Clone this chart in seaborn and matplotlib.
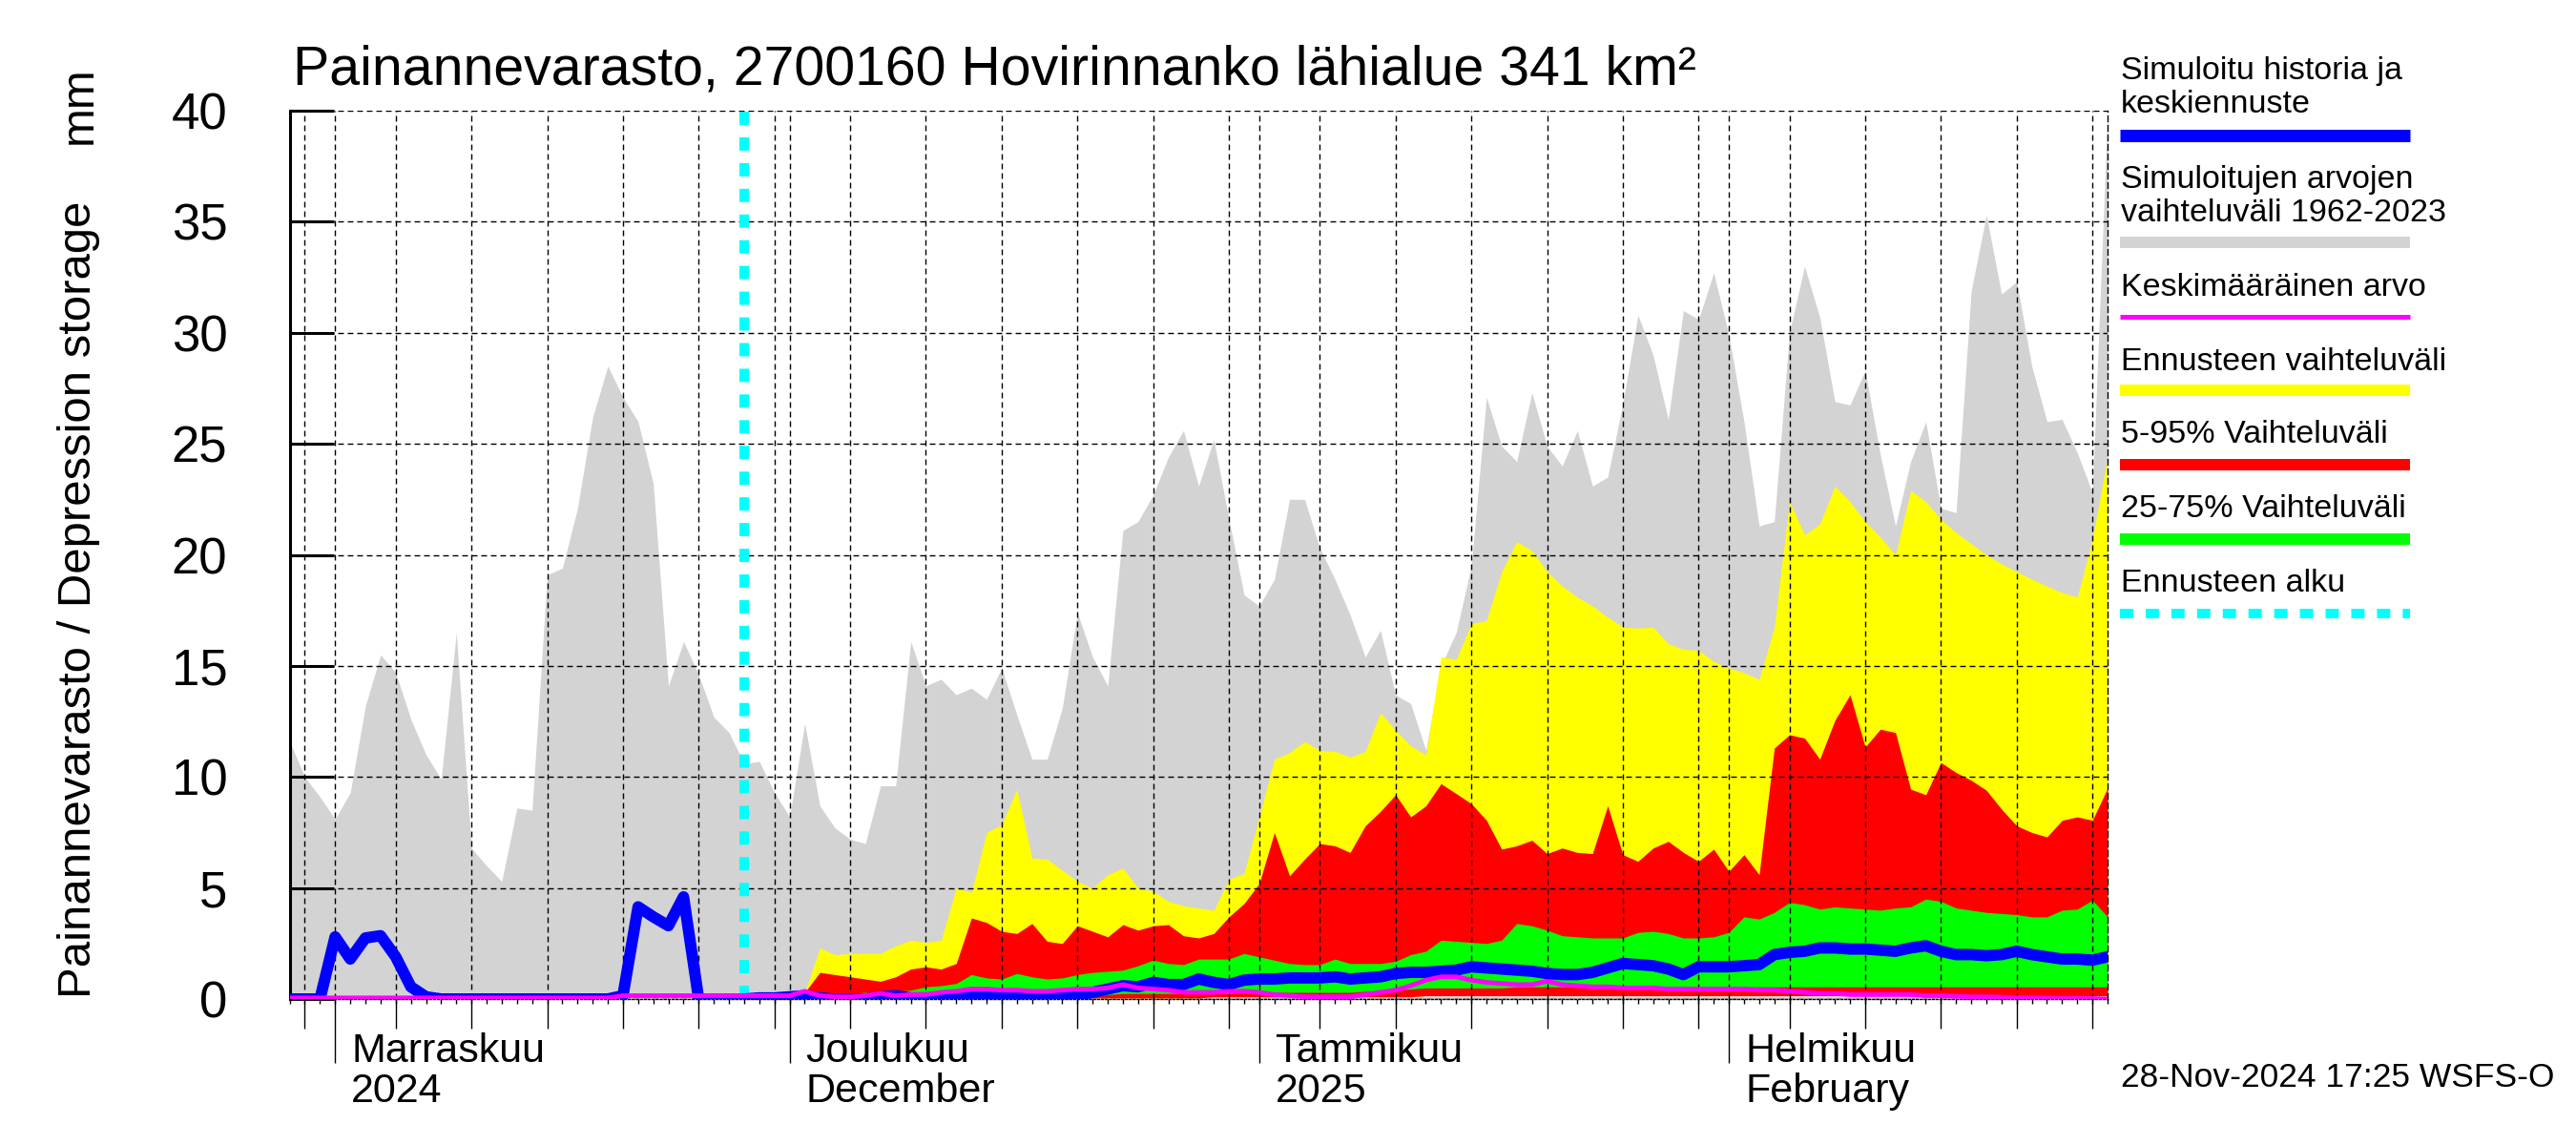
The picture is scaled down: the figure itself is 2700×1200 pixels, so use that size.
import numpy as np
import pandas as pd
import matplotlib
matplotlib.use("Agg")
import matplotlib.pyplot as plt
import matplotlib.dates as mdates
import matplotlib.transforms as mtransforms
from matplotlib.lines import Line2D
import seaborn as sns

# --- data (daily values) ---
start_date = "2024-10-29"
forecast_start = "2024-11-28"
end_date = "2025-02-26"

# simulated range 1962-2023 (upper edge), 29.10. - 26.2.
hist_max = [11.6, 10.0, 9.1, 8.1, 9.3, 13.2, 15.5, 14.7, 12.6, 11.0,
            9.9, 16.5, 6.8, 6.0, 5.3, 8.6, 8.5, 19.1, 19.4, 22.1,
            26.2, 28.5, 27.1, 26.0, 23.2, 14.1, 16.1, 14.6, 12.7, 12.0,
            10.6, 10.7, 9.3, 8.2, 12.4, 8.7, 7.7, 7.2, 7.0, 9.6,
            9.6, 16.1, 14.1, 14.4, 13.7, 14.0, 13.5, 14.9, 12.8, 10.8,
            10.8, 13.1, 17.4, 15.4, 14.1, 21.1, 21.5, 22.7, 24.4, 25.6,
            23.1, 25.2, 21.6, 18.2, 17.7, 18.9, 22.5, 22.5, 20.3, 18.9,
            17.3, 15.4, 16.6, 13.7, 13.3, 11.2, 15.0, 16.5, 19.5, 27.1,
            24.9, 24.2, 27.3, 24.9, 24.0, 25.6, 23.1, 23.5, 26.8, 30.8,
            29.0, 26.1, 31.0, 30.6, 32.7, 29.9, 26.0, 21.3, 21.5, 30.0,
            33.0, 30.7, 26.9, 26.75, 28.3, 24.5, 21.3, 24.2, 26.0, 22.1,
            21.9, 31.9, 35.3, 31.75, 32.3, 28.5, 26.0, 26.1, 24.6, 22.8,
            39.9]

# simulated history + median forecast
median_line = [0.0, 0.0, 0.0, 2.8, 1.8, 2.75, 2.85, 1.9, 0.55, 0.1,
               0.0, 0.0, 0.0, 0.0, 0.0, 0.0, 0.0, 0.0, 0.0, 0.0,
               0.0, 0.0, 0.15, 4.15, 3.7, 3.3, 4.6, 0.0, 0.0, 0.0,
               0.0, 0.05, 0.05, 0.1, 0.15, 0.05, 0.0, 0.0, 0.0, 0.1,
               0.15, 0.05, 0.05, 0.05, 0.05, 0.2, 0.2, 0.1, 0.05, 0.05,
               0.05, 0.1, 0.15, 0.3, 0.45, 0.6, 0.55, 0.75, 0.65, 0.65,
               0.9, 0.75, 0.65, 0.85, 0.9, 0.9, 0.95, 0.95, 0.95, 1.0,
               0.9, 0.95, 1.0, 1.15, 1.2, 1.2, 1.25, 1.3, 1.45, 1.4,
               1.35, 1.3, 1.25, 1.15, 1.1, 1.1, 1.2, 1.4, 1.6, 1.55,
               1.5, 1.35, 1.1, 1.45, 1.45, 1.45, 1.5, 1.55, 2.0, 2.1,
               2.15, 2.3, 2.3, 2.25, 2.25, 2.2, 2.15, 2.3, 2.4, 2.15,
               2.0, 2.0, 1.95, 2.0, 2.15, 2.0, 1.9, 1.8, 1.8, 1.75,
               1.9]

# long-term mean
mean_line = [0.05, 0.05, 0.05, 0.05, 0.05, 0.05, 0.05, 0.05, 0.05, 0.05,
             0.05, 0.05, 0.05, 0.05, 0.05, 0.05, 0.05, 0.05, 0.05, 0.05,
             0.05, 0.05, 0.15, 0.15, 0.15, 0.15, 0.15, 0.15, 0.15, 0.15,
             0.15, 0.15, 0.15, 0.15, 0.35, 0.15, 0.1, 0.1, 0.15, 0.25,
             0.15, 0.2, 0.2, 0.3, 0.35, 0.45, 0.45, 0.4, 0.4, 0.35,
             0.35, 0.4, 0.45, 0.45, 0.5, 0.65, 0.5, 0.45, 0.4, 0.3,
             0.3, 0.3, 0.35, 0.35, 0.3, 0.2, 0.15, 0.1, 0.1, 0.1,
             0.1, 0.2, 0.3, 0.4, 0.6, 0.85, 1.0, 1.0, 0.85, 0.75,
             0.7, 0.65, 0.65, 0.8, 0.65, 0.6, 0.55, 0.55, 0.5, 0.5,
             0.5, 0.45, 0.45, 0.45, 0.45, 0.45, 0.45, 0.4, 0.4, 0.35,
             0.3, 0.25, 0.25, 0.2, 0.2, 0.2, 0.2, 0.2, 0.15, 0.15,
             0.12, 0.1, 0.1, 0.08, 0.05, 0.05, 0.04, 0.03, 0.02, 0.02,
             0.0]

# forecast bands, 28.11. - 26.2.
fc_max = [0.05, 0.1, 0.1, 0.15, 0.3, 2.3, 2.0, 2.05, 2.05, 2.05,
          2.4, 2.65, 2.55, 2.65, 5.0, 4.8, 7.5, 7.85, 9.45, 6.35,
          6.3, 5.8, 5.3, 5.0, 5.6, 5.9, 5.0, 4.85, 4.4, 4.2,
          4.1, 4.0, 5.4, 5.65, 8.2, 10.8, 11.1, 11.6, 11.2, 11.15,
          10.9, 11.15, 12.9, 12.1, 11.4, 11.0, 15.4, 15.3, 16.9, 17.05,
          19.25, 20.6, 20.2, 19.25, 18.6, 18.1, 17.7, 17.2, 16.75, 16.7,
          16.75, 16.0, 15.75, 15.7, 15.2, 14.9, 14.7, 14.4, 16.75, 22.4,
          20.9, 21.4, 23.1, 22.4, 21.5, 20.8, 20.0, 22.9, 22.4, 21.6,
          21.0, 20.5, 20.0, 19.6, 19.25, 18.9, 18.6, 18.3, 18.1, 20.7,
          24.4]
fc_p95 = [0.05, 0.05, 0.1, 0.1, 0.3, 1.2, 1.1, 1.0, 0.9, 0.8,
          1.0, 1.35, 1.45, 1.35, 1.6, 3.65, 3.45, 3.05, 2.95, 3.4,
          2.6, 2.5, 3.3, 3.05, 2.8, 3.35, 3.1, 3.3, 3.35, 2.85,
          2.75, 2.95, 3.7, 4.3, 5.2, 7.5, 5.55, 6.3, 7.0, 6.9,
          6.6, 7.8, 8.45, 9.2, 8.2, 8.7, 9.7, 9.25, 8.8, 8.05,
          6.75, 6.9, 7.15, 6.55, 6.8, 6.6, 6.55, 8.7, 6.5, 6.2,
          6.8, 7.1, 6.6, 6.2, 6.75, 5.75, 6.5, 5.6, 11.3, 11.9,
          11.75, 10.8, 12.55, 13.7, 11.35, 12.15, 12.0, 9.45, 9.2, 10.65,
          10.2, 9.85, 9.4, 8.55, 7.8, 7.5, 7.3, 8.05, 8.2, 8.05,
          9.5]
fc_p75 = [0.05, 0.05, 0.05, 0.1, 0.1, 0.2, 0.25, 0.25, 0.3, 0.3,
          0.35, 0.4, 0.55, 0.6, 0.7, 1.1, 0.95, 0.9, 1.15, 1.0,
          0.9, 0.95, 1.1, 1.2, 1.25, 1.3, 1.5, 1.75, 1.6, 1.55,
          1.8, 1.8, 1.8, 2.05, 1.9, 1.75, 1.6, 1.55, 1.55, 1.8,
          1.6, 1.6, 1.6, 1.7, 2.0, 2.15, 2.65, 2.6, 2.55, 2.5,
          2.65, 3.4, 3.3, 3.1, 2.85, 2.8, 2.75, 2.75, 2.75, 3.0,
          3.05, 2.95, 2.75, 2.75, 2.8, 3.0, 3.7, 3.6, 3.9, 4.35,
          4.25, 4.05, 4.15, 4.1, 4.05, 4.0, 4.1, 4.15, 4.5, 4.4,
          4.1, 4.0, 3.9, 3.85, 3.8, 3.7, 3.7, 4.0, 4.05, 4.45,
          3.7]
fc_p25 = [0.0, 0.0, 0.0, 0.05, 0.05, 0.05, 0.05, 0.05, 0.05, 0.05,
          0.05, 0.05, 0.1, 0.1, 0.1, 0.15, 0.15, 0.15, 0.15, 0.15,
          0.15, 0.15, 0.2, 0.2, 0.2, 0.25, 0.25, 0.25, 0.25, 0.25,
          0.25, 0.25, 0.25, 0.3, 0.3, 0.3, 0.3, 0.3, 0.3, 0.3,
          0.3, 0.35, 0.35, 0.4, 0.45, 0.5, 0.5, 0.5, 0.5, 0.5,
          0.5, 0.55, 0.55, 0.55, 0.55, 0.55, 0.55, 0.55, 0.55, 0.55,
          0.55, 0.55, 0.55, 0.55, 0.55, 0.55, 0.55, 0.55, 0.55, 0.55,
          0.55, 0.55, 0.55, 0.55, 0.55, 0.55, 0.55, 0.55, 0.55, 0.55,
          0.55, 0.55, 0.55, 0.55, 0.55, 0.55, 0.55, 0.55, 0.55, 0.55,
          0.55]
fc_p05 = [0.0, 0.0, 0.0, 0.0, 0.05, 0.05, 0.05, 0.05, 0.05, 0.05,
          0.05, 0.05, 0.05, 0.05, 0.05, 0.05, 0.05, 0.05, 0.05, 0.05,
          0.05, 0.05, 0.05, 0.05, 0.05, 0.05, 0.05, 0.05, 0.05, 0.05,
          0.05, 0.1, 0.1, 0.1, 0.1, 0.1, 0.1, 0.1, 0.1, 0.1,
          0.1, 0.1, 0.1, 0.1, 0.1, 0.15, 0.15, 0.15, 0.15, 0.15,
          0.15, 0.15, 0.15, 0.15, 0.15, 0.15, 0.15, 0.15, 0.15, 0.15,
          0.15, 0.15, 0.15, 0.15, 0.15, 0.15, 0.15, 0.15, 0.15, 0.15,
          0.15, 0.15, 0.15, 0.15, 0.15, 0.15, 0.15, 0.15, 0.15, 0.15,
          0.15, 0.15, 0.15, 0.15, 0.15, 0.15, 0.15, 0.15, 0.15, 0.15,
          0.15]
fc_min = list(fc_p05)

month_labels = ["Marraskuu\n2024", "Joulukuu\nDecember",
                "Tammikuu\n2025", "Helmikuu\nFebruary"]
y_ticks = [0, 5, 10, 15, 20, 25, 30, 35, 40]

title = "Painannevarasto, 2700160 Hovirinnanko lähialue 341 km²"
ylabel = "Painannevarasto / Depression storage"
yunit = "mm"
footer = "28-Nov-2024 17:25 WSFS-O"
legend_items = [
    (["Simuloitu historia ja", "keskiennuste"], "#0000ff", 9.4, "-"),
    (["Simuloitujen arvojen", "vaihteluväli 1962-2023"], "#d3d3d3", 8.6, "-"),
    (["Keskimääräinen arvo"], "#ff00ff", 3.6, "-"),
    (["Ennusteen vaihteluväli"], "#ffff00", 8.6, "-"),
    (["5-95% Vaihteluväli"], "#ff0000", 8.6, "-"),
    (["25-75% Vaihteluväli"], "#00ff00", 8.6, "-"),
    (["Ennusteen alku"], "#00ffff", 7.2, (0, (10, 9.4))),
]

# --- frames ---
dates = pd.date_range(start_date, end_date, freq="D")
hist = pd.DataFrame({"date": dates, "hist_max": hist_max,
                     "median": median_line, "mean": mean_line})
fc = pd.DataFrame({"date": pd.date_range(forecast_start, end_date, freq="D"),
                   "fmin": fc_min, "p05": fc_p05, "p25": fc_p25,
                   "p75": fc_p75, "p95": fc_p95, "fmax": fc_max})

sns.set_theme(style="white")
plt.rcParams["font.family"] = ["Liberation Sans", "DejaVu Sans"]
plt.rcParams["lines.scale_dashes"] = False
for key in ["text.color", "axes.labelcolor", "xtick.color", "ytick.color",
            "xtick.labelcolor", "ytick.labelcolor"]:
    plt.rcParams[key] = "black"

W, H = 2700, 1200
fig = plt.figure(figsize=(W / 100, H / 100), dpi=100)
ax = fig.add_axes([303.6 / W, 1 - 1047 / H, (2209 - 303.6) / W, (1047 - 116) / H])

# bands
ax.fill_between(hist["date"], 0, hist["hist_max"], color="#d3d3d3", lw=0, zorder=1)
ax.fill_between(fc["date"], fc["fmin"], fc["fmax"], color="#ffff00", lw=0, zorder=1.1)
ax.fill_between(fc["date"], fc["p05"], fc["p95"], color="#ff0000", lw=0, zorder=1.2)
ax.fill_between(fc["date"], fc["p25"], fc["p75"], color="#00ff00", lw=0, zorder=1.3)

ax.axvline(pd.Timestamp(forecast_start), color="#00ffff", lw=7.2,
           linestyle=(0, (10, 9.4)), zorder=2.6)

sns.lineplot(data=hist, x="date", y="median", color="#0000ff", lw=8.6,
             ax=ax, legend=False, zorder=3)
sns.lineplot(data=hist, x="date", y="mean", color="#ff00ff", lw=3.5,
             ax=ax, legend=False, zorder=3.1)

# axes limits / ticks
ax.set_xlim(dates[0], dates[-1])
ax.set_ylim(0, 40)
ax.set_xlabel("")
ax.set_ylabel("")

month_starts = dates[dates.day == 1]
five_days = dates[(dates.day % 5 == 0)]
ax.set_xticks(month_starts)
ax.set_xticklabels(month_labels)
ax.set_xticks(five_days, minor=True)
ax.tick_params(axis="x", which="major", direction="out", length=48, width=1.0,
               color="black", labelsize=31, pad=-23, bottom=True)
ax.tick_params(axis="x", which="minor", direction="out", length=22, width=1.0,
               color="black", bottom=True)
offset = mtransforms.ScaledTranslation(0.17, 0, fig.dpi_scale_trans)
for lab in ax.get_xticklabels():
    lab.set_horizontalalignment("left")
    lab.set_linespacing(1.07)
    lab.set_transform(lab.get_transform() + offset)

sec = ax.secondary_xaxis("bottom")
sec.set_xticks(mdates.date2num(dates))
sec.tick_params(axis="x", direction="out", length=3.6, width=1.0,
                color="black", labelbottom=False)
sec.spines["bottom"].set_visible(False)

ax.set_yticks(y_ticks)
ax.set_yticklabels([str(v) for v in y_ticks])
ax.tick_params(axis="y", which="major", direction="in", length=33, width=2.2,
               color="black", labelsize=38, pad=47, left=True)

grid_style = dict(color="black", lw=1.0, linestyle=(0, (4.3, 2.9)))
ax.grid(True, axis="x", which="both", **grid_style)
ax.grid(True, axis="y", which="major", **grid_style)
ax.set_axisbelow(False)

ax.spines["top"].set_visible(False)
ax.spines["right"].set_linestyle((0, (4.3, 2.9)))
ax.spines["right"].set_linewidth(1.0)
ax.spines["right"].set_color("black")
ax.spines["left"].set_linewidth(2.2)
ax.spines["left"].set_color("black")
ax.spines["bottom"].set_linestyle((0, (1.5, 1.5)))
ax.spines["bottom"].set_linewidth(1.0)
ax.spines["bottom"].set_color("black")

# texts
fig.text(307 / W, 1 - 88 / H, title, fontsize=41.2, va="baseline", ha="left")
fig.text(83 / W, 1 - 1046 / H, ylabel, fontsize=35.4, rotation=90,
         va="bottom", ha="center")
fig.text(83 / W, 1 - 69 / H, yunit, fontsize=35.4, rotation=90,
         va="top", ha="center")
fig.text(2223 / W, 1 - 1139 / H, footer, fontsize=25.5, va="baseline", ha="left")

# legend drawn at the right side
text_base = [[83, 118], [197, 232], [310], [388], [464.5], [542], [620]]
line_y = [141.6, 254, 332, 409.4, 487.3, 565.3, 643]
for (texts, col, lw, ls), bases, ly in zip(legend_items, text_base, line_y):
    for t, b in zip(texts, bases):
        fig.text(2223 / W, 1 - b / H, t, fontsize=24.5, va="baseline", ha="left")
    fig.add_artist(Line2D([2222 / W, 2526 / W], [1 - ly / H, 1 - ly / H],
                          transform=fig.transFigure, color=col, lw=lw,
                          linestyle=ls, solid_capstyle="butt",
                          dash_capstyle="butt"))

fig.savefig("out.png", dpi=100)
